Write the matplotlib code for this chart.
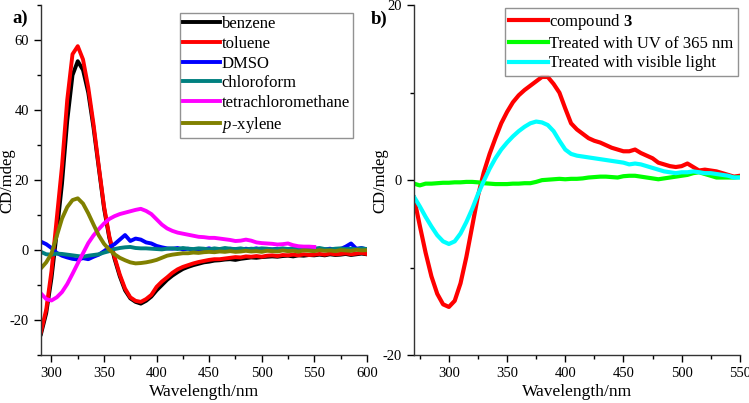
import matplotlib
matplotlib.use("Agg")
import matplotlib.pyplot as plt
from matplotlib.ticker import MultipleLocator
import numpy as np

plt.rcParams['font.family'] = ['Liberation Serif', 'DejaVu Serif']
plt.rcParams['mathtext.fontset'] = 'custom'
plt.rcParams['mathtext.rm'] = 'Liberation Serif'
plt.rcParams['mathtext.it'] = 'Liberation Serif:italic'
plt.rcParams['mathtext.bf'] = 'Liberation Serif:bold'
plt.rcParams['axes.unicode_minus'] = False

# ---- panel a) : solvents, 290-600 nm every 5 nm ----
wl_a = np.arange(290, 601, 5)

benzene = [-24, -18, -8, 5, 19, 37, 50, 54, 51.5, 45, 35, 23.5, 12, 3.5, -2.5,
           -7.5, -11.5, -13.8, -14.8, -15.3, -14.5, -13.3, -11.5, -10, -8.5, -7.3,
           -6.3, -5.4, -4.8, -4.3, -3.9, -3.5, -3.3, -3.0, -2.9, -2.7, -2.6, -2.8,
           -2.5, -2.3, -2.1, -2.2, -2.0, -1.9, -1.8, -1.9, -1.7, -1.6, -1.8, -1.5,
           -1.6, -1.4, -1.5, -1.3, -1.5, -1.2, -1.4, -1.3, -1.1, -1.4, -1.2, -1.0, -1.2]
toluene = [-23.4, -17, -6, 9, 24, 43, 56, 58.3, 54.5, 46.5, 36, 24, 12.5, 4, -2,
           -7, -11, -13.5, -14.5, -14.8, -14, -12.8, -10.5, -9, -7.8, -6.5,
           -5.5, -4.8, -4.3, -3.8, -3.4, -3.1, -2.8, -2.6, -2.6, -2.4, -2.2, -2.0,
           -2.1, -1.8, -1.9, -1.7, -1.9, -1.6, -1.5, -1.7, -1.4, -1.5, -1.3, -1.5,
           -1.2, -1.4, -1.3, -1.1, -1.3, -1.0, -1.2, -1.1, -0.9, -1.2, -1.0, -0.8, -1.1]
dmso = [2.4, 1.7, 0.6, -0.8, -1.6, -2.1, -2.5, -2.7, -2.3, -2.6, -1.9, -1.3, -0.3, 0.8,
        1.7, 3.0, 4.3, 2.6, 3.3, 3.0, 2.2, 1.9, 1.2, 0.8, 0.5, 0.4, 0.6, 0.2, 0.4,
        0.1, 0.3, 0.2, 0.5, 0.1, 0.3, 0.0, 0.4, 0.2, 0.1, 0.4, 0.2, 0.5, 0.1, 0.3,
        0.2, 0.4, 0.0, 0.3, 0.5, 0.2, 0.1, 0.4, 0.3, 0.0, 0.2, 0.4, 0.1, 0.3, 1.0,
        1.9, 0.4, 0.6, 0.2]
chloroform = [-0.5, -1.2, -1.3, -1.0, -1.1, -1.3, -1.5, -1.7, -1.9, -1.6, -1.4, -1.2,
              -0.7, -0.3, 0.3, 0.6, 0.8, 0.9, 0.6, 0.5, 0.5, 0.4, 0.3, 0.2, 0.4, 0.5,
              0.3, 0.6, 0.4, 0.3, 0.5, 0.4, 0.2, 0.5, 0.3, 0.6, 0.4, 0.3, 0.5, 0.2,
              0.4, 0.3, 0.5, 0.4, 0.2, 0.3, 0.5, 0.3, 0.4, 0.2, 0.5, 0.3, 0.4, 0.6,
              0.3, 0.2, 0.4, 0.5, 0.3, 0.4, 0.2, 0.5, 0.3]
p_xylene = [-5.2, -3.5, -1, 4, 9, 12.3, 14.3, 14.8, 13.3, 10.5, 7.3, 4.2, 1.8, 0.1,
            -1.2, -2.2, -2.9, -3.5, -3.8, -3.7, -3.5, -3.2, -2.8, -2.2, -1.6, -1.3,
            -1.1, -0.9, -0.9, -0.7, -0.8, -0.6, -0.5, -0.6, -0.4, -0.5, -0.3, -0.5,
            -0.4, -0.2, -0.4, -0.3, -0.5, -0.2, -0.3, -0.4, -0.1, -0.3, -0.2, -0.4,
            -0.1, -0.2, -0.3, 0.0, -0.2, -0.1, -0.3, 0.0, -0.1, -0.2, 0.1, -0.1, 0.0]

# tetrachloromethane only runs to 550 nm
wl_ccl4 = np.arange(290, 551, 5)
ccl4 = [-12.4, -14, -14.4, -13.5, -12, -9.7, -6.8, -3.8, -0.9, 2, 4.2, 6, 7.6, 8.9,
        9.7, 10.3, 10.7, 11.1, 11.5, 11.8, 11.2, 10.3, 8.8, 7.3, 6.2, 5.5, 5.0, 4.7,
        4.4, 4.1, 3.8, 3.7, 3.5, 3.5, 3.3, 3.1, 2.9, 2.6, 2.7, 3.0, 2.7, 2.2, 2.0,
        1.9, 1.8, 1.6, 1.7, 1.9, 1.4, 1.1, 1.0, 1.0, 0.9]

# ---- panel b) : compound 3, 270-550 nm every 5 nm ----
wl_b = np.arange(270, 551, 5)
compound3 = [-2.0, -5.2, -8.3, -11.0, -13.0, -14.2, -14.5, -13.8, -11.8, -8.8, -5.3,
             -1.8, 0.9, 3.0, 4.8, 6.5, 7.8, 8.9, 9.7, 10.3, 10.8, 11.3, 11.8, 11.8,
             11.0, 10.0, 8.2, 6.5, 5.8, 5.3, 4.8, 4.5, 4.3, 4.0, 3.7, 3.5, 3.3, 3.3,
             3.5, 3.1, 2.8, 2.5, 2.0, 1.8, 1.6, 1.5, 1.6, 1.9, 1.5, 1.1, 1.2, 1.1,
             1.0, 0.8, 0.6, 0.4, 0.5]
uv365 = [-0.4, -0.6, -0.4, -0.4, -0.35, -0.3, -0.3, -0.25, -0.25, -0.2, -0.2, -0.25,
         -0.35, -0.4, -0.45, -0.45, -0.45, -0.4, -0.4, -0.35, -0.35, -0.2, 0.0, 0.05,
         0.1, 0.15, 0.1, 0.15, 0.15, 0.2, 0.3, 0.35, 0.4, 0.4, 0.35, 0.3, 0.45, 0.5,
         0.5, 0.4, 0.3, 0.2, 0.1, 0.2, 0.3, 0.4, 0.5, 0.6, 0.8, 0.9, 0.7, 0.5, 0.3,
         0.3, 0.3, 0.3, 0.35]
visible = [-1.9, -3.0, -4.2, -5.3, -6.3, -7.0, -7.3, -7.0, -6.1, -4.8, -3.3, -1.6,
           -0.1, 1.3, 2.5, 3.5, 4.3, 5.0, 5.6, 6.1, 6.5, 6.7, 6.6, 6.3, 5.6, 4.5, 3.5,
           3.0, 2.8, 2.7, 2.6, 2.5, 2.4, 2.3, 2.2, 2.1, 2.0, 1.8, 1.9, 1.8, 1.6, 1.4,
           1.2, 1.0, 0.9, 0.8, 0.9, 0.9, 1.0, 0.9, 0.8, 0.8, 0.7, 0.6, 0.5, 0.3, 0.3]

fig = plt.figure(figsize=(7.49, 4.03), dpi=100)
ax1 = fig.add_axes([0.0547, 0.119, 0.435, 0.868])
ax2 = fig.add_axes([0.5527, 0.119, 0.435, 0.868])

lw = 2.8
ax1.plot(wl_a, benzene, color='black', lw=lw, label='benzene')
ax1.plot(wl_a, toluene, color='#ff0000', lw=lw, label='toluene')
ax1.plot(wl_a, dmso, color='#0000ff', lw=lw, label='DMSO')
ax1.plot(wl_a, chloroform, color='#008080', lw=lw, label='chloroform')
ax1.plot(wl_ccl4, ccl4, color='#ff00ff', lw=lw, label='tetrachloromethane')
ax1.plot(wl_a, p_xylene, color='#808000', lw=lw, label='$\\it{p}$-xylene')

lw2 = 3.0
ax2.plot(wl_b, compound3, color='#ff0000', lw=lw2, label='compound $\\bf{3}$')
ax2.plot(wl_b, uv365, color='#00ff00', lw=lw2, label='Treated with UV of 365 nm')
ax2.plot(wl_b, visible, color='#00ffff', lw=lw2, label='Treated with visible light')

ax1.set_xlim(290, 600)
ax1.set_ylim(-30, 70)
ax1.xaxis.set_major_locator(MultipleLocator(50))
ax1.xaxis.set_minor_locator(MultipleLocator(25))
ax1.yaxis.set_major_locator(MultipleLocator(20))
ax1.yaxis.set_minor_locator(MultipleLocator(10))

ax2.set_xlim(270, 550)
ax2.set_ylim(-20, 20)
ax2.xaxis.set_major_locator(MultipleLocator(50))
ax2.xaxis.set_minor_locator(MultipleLocator(25))
ax2.yaxis.set_major_locator(MultipleLocator(20))
ax2.yaxis.set_minor_locator(MultipleLocator(10))

for ax in (ax1, ax2):
    ax.spines['top'].set_visible(False)
    ax.spines['right'].set_visible(False)
    for s in ('left', 'bottom'):
        ax.spines[s].set_linewidth(1.0)
        ax.spines[s].set_color('#333333')
    ax.tick_params(which='major', direction='out', length=5, width=1, labelsize=10.5)
    ax.tick_params(which='minor', direction='out', length=3, width=1)
    ax.set_xlabel('Wavelength/nm', fontsize=12.5, labelpad=3)
    ax.set_ylabel('CD/mdeg', fontsize=12)
    ax.yaxis.set_label_coords(-0.078, 0.5)

ax1.legend(loc='upper left', bbox_to_anchor=(180 / 749, 1 - 13 / 403),
           bbox_transform=fig.transFigure, fontsize=12, frameon=True, fancybox=False,
           edgecolor='#777777', handlelength=2.2, handletextpad=0.1, labelspacing=0.22,
           borderpad=0.2, borderaxespad=0)
ax2.legend(loc='upper left', bbox_to_anchor=(505 / 749, 1 - 8 / 403),
           bbox_transform=fig.transFigure, fontsize=12, frameon=True, fancybox=False,
           edgecolor='#777777', handlelength=2.3, handletextpad=0.1, labelspacing=0.22,
           borderpad=0.25, borderaxespad=0)

fig.text(20 / 749, 1 - 18 / 403, 'a)', fontsize=13.5, fontweight='bold', ha='center', va='center')
fig.text(379 / 749, 1 - 19 / 403, 'b)', fontsize=13.5, fontweight='bold', ha='center', va='center')

fig.savefig('out.png', dpi=100)
